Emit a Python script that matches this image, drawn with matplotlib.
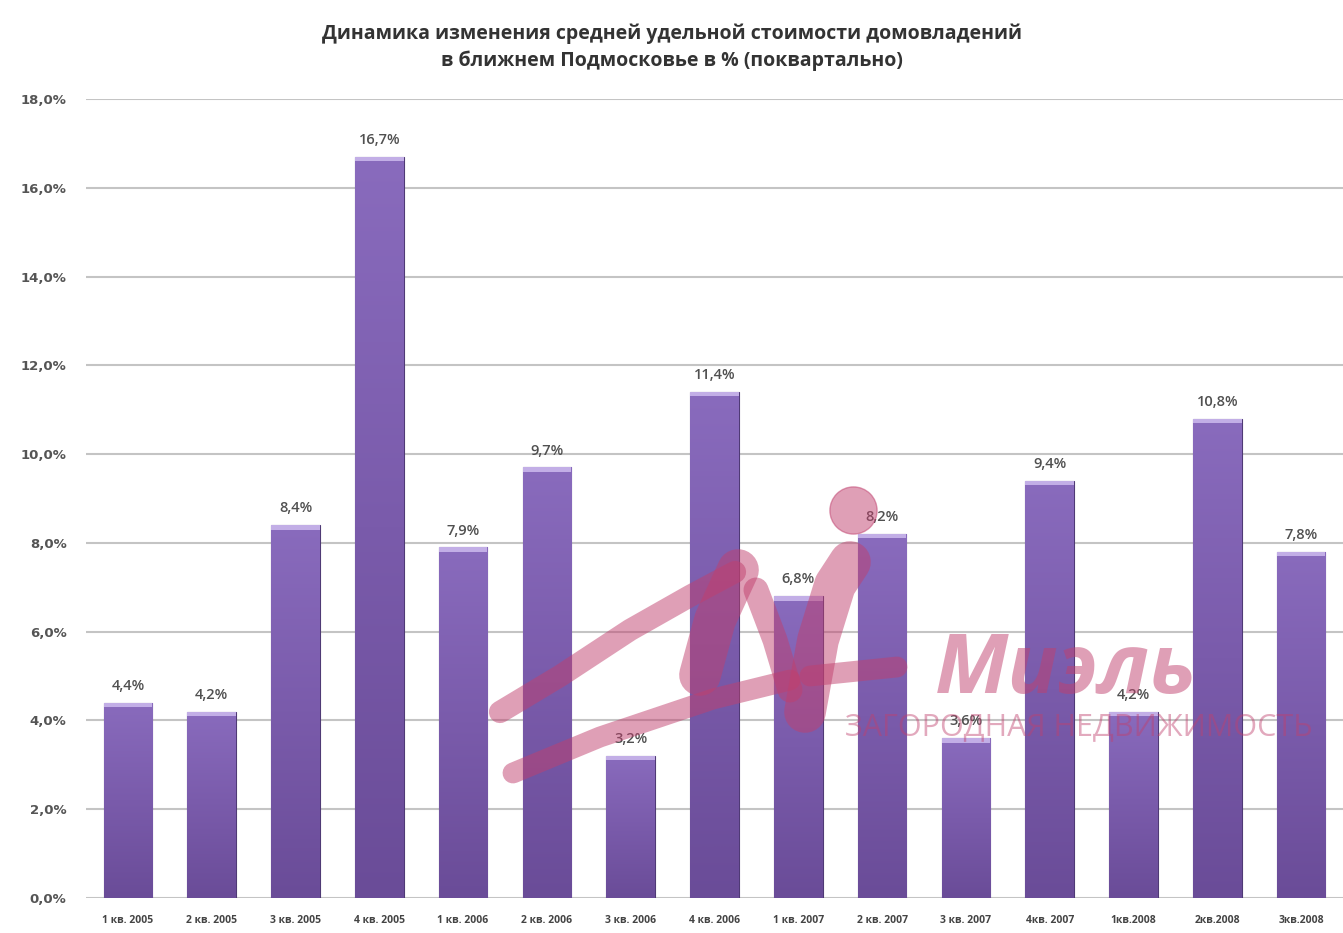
import matplotlib
matplotlib.use("Agg")
import matplotlib.pyplot as plt
import numpy as np
from matplotlib.colors import LinearSegmentedColormap

categories = ["1 кв. 2005", "2 кв. 2005", "3 кв. 2005", "4 кв. 2005",
              "1 кв. 2006", "2 кв. 2006", "3 кв. 2006", "4 кв. 2006",
              "1 кв. 2007", "2 кв. 2007", "3 кв. 2007", "4кв. 2007",
              "1кв.2008", "2кв.2008", "3кв.2008"]
values = [4.4, 4.2, 8.4, 16.7, 7.9, 9.7, 3.2, 11.4, 6.8, 8.2, 3.6, 9.4, 4.2, 10.8, 7.8]
yticks = [0, 2, 4, 6, 8, 10, 12, 14, 16, 18]
title = "Динамика изменения средней удельной стоимости домовладений\nв ближнем Подмосковье в % (поквартально)"
logo_name = "Миэль"
logo_sub = "ЗАГОРОДНАЯ НЕДВИЖИМОСТЬ"

plt.rcParams['font.family'] = ['Open Sans', 'DejaVu Sans']

W, H = 1343, 933
fig = plt.figure(figsize=(W / 100, H / 100), dpi=100)
ax = fig.add_axes([86 / W, 35 / H, 1 - 86 / W, (898 - 99) / H])

x = np.arange(len(values))
w = 0.58
bars = ax.bar(x, values, width=w, color="#7a5aa6", edgecolor="#4f3a75", linewidth=0.8, zorder=3)

cmap = LinearSegmentedColormap.from_list("pg", ["#896bbd", "#7a5bab", "#6a4c98"])
grad = np.linspace(0, 1, 256).reshape(-1, 1)
for b in bars:
    x0, y0 = b.get_x(), b.get_y()
    bw, bh = b.get_width(), b.get_height()
    im = ax.imshow(grad, cmap=cmap, aspect='auto', extent=[x0, x0 + bw, y0, y0 + bh],
                   origin='upper', zorder=3.1, interpolation='bilinear')
    im.set_clip_path(b)
    ax.bar(b.get_x() + bw / 2, 0.1, width=bw, bottom=bh - 0.1, color="#c2aee6",
           linewidth=0, zorder=3.2)

for xi, v in zip(x, values):
    ax.text(xi, v + 0.22, f"{v:.1f}%".replace(".", ","), ha='center', va='bottom',
            fontsize=10.5, fontweight='semibold', color='#505050', zorder=5)

ax.set_xlim(-0.5, 14.5)
ax.set_ylim(0, 18)
ax.set_yticks(yticks)
ax.set_yticklabels([f"{t:.1f}%".replace(".", ",") for t in yticks], fontsize=9.5,
                   fontweight='bold', color='#555555', family='DejaVu Sans')
ax.set_xticks(x)
ax.set_xticklabels(categories, fontsize=7.5, fontweight='bold', color='#444444')
ax.yaxis.grid(True, color='#c4c4c4', lw=1.5, zorder=0)
ax.tick_params(axis='y', length=0, pad=14)
ax.tick_params(axis='x', length=0, pad=12)
for s in ax.spines.values():
    s.set_visible(False)

# watermark logo (decoration, in figure pixel positions)
def fp(px, py):
    return px / W, 1 - py / H

pink = '#c0406e'
def stroke(pts, lw, marker=None, ms=0):
    xs, ys = zip(*[fp(*p) for p in pts])
    fig.add_artist(plt.Line2D(xs, ys, transform=fig.transFigure, color=pink, alpha=0.5,
                              lw=lw, marker=marker, ms=ms, solid_capstyle='round',
                              solid_joinstyle='round', zorder=10))

stroke([(500, 712), (560, 676), (630, 630), (690, 596), (735, 572)], 16)
stroke([(513, 773), (600, 737), (713, 699), (790, 680)], 15)
stroke([(810, 676), (897, 667)], 15)
stroke([(700, 675), (715, 620), (738, 570)], 30)
stroke([(756, 590), (775, 640), (790, 690)], 18)
stroke([(805, 712), (818, 640), (835, 585), (850, 562)], 30)
stroke([(853, 510)], 0, marker='o', ms=34)
fx, fy = fp(935, 672)
fig.text(fx, fy, logo_name, fontsize=60, fontweight='bold', style='italic', color=pink,
         alpha=0.5, ha='left', va='center', zorder=10)
fx, fy = fp(845, 727)
fig.text(fx, fy, logo_sub, fontsize=22, color=pink, alpha=0.45, ha='left', va='center',
         zorder=10)

fig.text(0.5, 1 - 47 / H, title, ha='center', va='center', fontsize=14, fontweight='bold',
         color='#333333', linespacing=1.45)

fig.savefig("out.png", dpi=100)
